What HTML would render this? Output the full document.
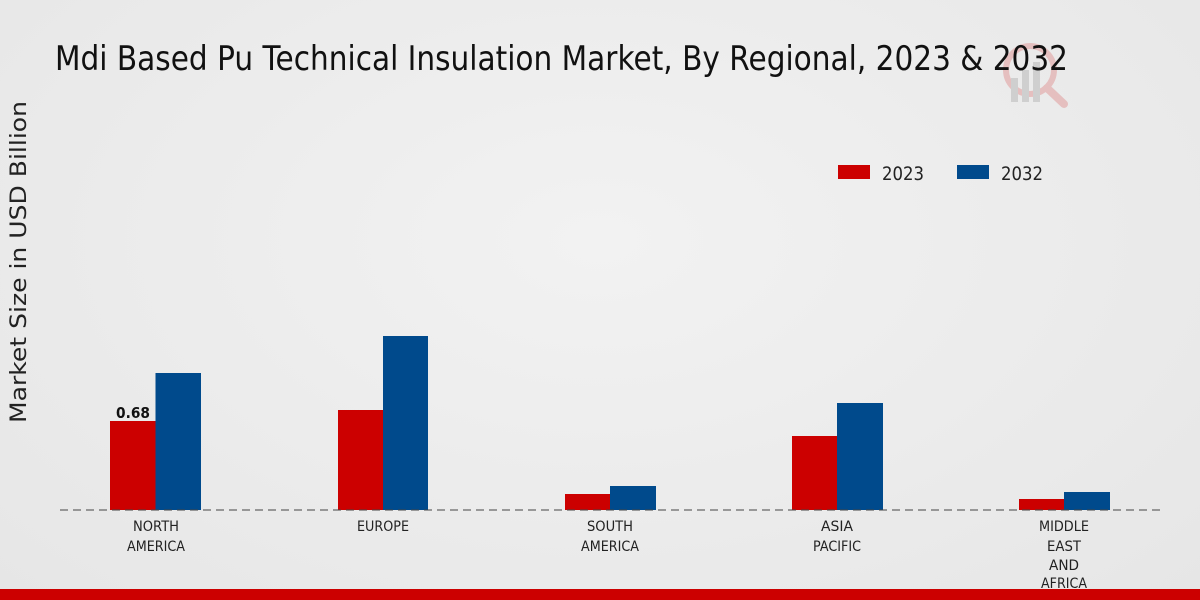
<!DOCTYPE html>
<html><head><meta charset="utf-8"><style>
html,body{margin:0;padding:0}
body{width:1200px;height:600px;overflow:hidden;background:radial-gradient(ellipse at 50% 40%,#f2f2f2 0%,#e6e6e6 100%);font-family:"Liberation Sans","DejaVu Sans",sans-serif}
</style></head><body>
<svg width="1200" height="600" viewBox="0 0 1200 600" xmlns="http://www.w3.org/2000/svg" style="position:absolute;left:0;top:0">
<g opacity="0.18">
<circle cx="1030" cy="70" r="24" fill="none" stroke="#c00" stroke-width="6"/>
<line x1="1047" y1="88" x2="1064" y2="104" stroke="#c00" stroke-width="8" stroke-linecap="round"/>
<rect x="1011" y="78" width="7" height="24" fill="#555"/><rect x="1022" y="70" width="7" height="32" fill="#555"/><rect x="1033" y="62" width="7" height="40" fill="#555"/>
</g>
<text x="55" y="70" font-size="34" fill="#111" textLength="1013" lengthAdjust="spacingAndGlyphs" font-family="DejaVu Sans, sans-serif">Mdi Based Pu Technical Insulation Market, By Regional, 2023 &amp; 2032</text>
<text transform="translate(26,262) rotate(-90)" text-anchor="middle" font-size="22" fill="#222" font-family="DejaVu Sans, sans-serif" textLength="322" lengthAdjust="spacingAndGlyphs">Market Size in USD Billion</text>
<rect x="838" y="165" width="32" height="14" fill="#cc0000"/>
<text x="882" y="180" font-size="19" fill="#222" font-family="DejaVu Sans, sans-serif" textLength="42" lengthAdjust="spacingAndGlyphs">2023</text>
<rect x="957" y="165" width="32" height="14" fill="#004a8c"/>
<text x="1001" y="180" font-size="19" fill="#222" font-family="DejaVu Sans, sans-serif" textLength="42" lengthAdjust="spacingAndGlyphs">2032</text>
<g>
<rect x="110" y="421" width="45.5" height="89" fill="#cc0000"/><rect x="155.5" y="373" width="45.5" height="137" fill="#004a8c"/>
<rect x="338" y="410" width="45" height="100" fill="#cc0000"/><rect x="383" y="336" width="45" height="174" fill="#004a8c"/>
<rect x="565" y="494" width="45" height="16" fill="#cc0000"/><rect x="610" y="486" width="46" height="24" fill="#004a8c"/>
<rect x="792" y="436" width="45" height="74" fill="#cc0000"/><rect x="837" y="403" width="46" height="107" fill="#004a8c"/>
<rect x="1019" y="499" width="45" height="11" fill="#cc0000"/><rect x="1064" y="492" width="46" height="18" fill="#004a8c"/>
</g>
<line x1="60" y1="510" x2="1160" y2="510" stroke="#444" stroke-dasharray="8,5" stroke-width="1"/>
<text x="133" y="418" text-anchor="middle" font-size="15" font-weight="bold" fill="#111" font-family="DejaVu Sans, sans-serif" textLength="34" lengthAdjust="spacingAndGlyphs">0.68</text>
<g font-size="14" fill="#222" text-anchor="middle" font-family="DejaVu Sans, sans-serif" transform="scale(1,1)">
<text x="156" y="531" textLength="46" lengthAdjust="spacingAndGlyphs">NORTH</text><text x="156" y="551" textLength="58" lengthAdjust="spacingAndGlyphs">AMERICA</text>
<text x="383" y="531" textLength="52" lengthAdjust="spacingAndGlyphs">EUROPE</text>
<text x="610" y="531" textLength="46" lengthAdjust="spacingAndGlyphs">SOUTH</text><text x="610" y="551" textLength="58" lengthAdjust="spacingAndGlyphs">AMERICA</text>
<text x="837" y="531" textLength="32" lengthAdjust="spacingAndGlyphs">ASIA</text><text x="837" y="551" textLength="48" lengthAdjust="spacingAndGlyphs">PACIFIC</text>
<text x="1064" y="531" textLength="50" lengthAdjust="spacingAndGlyphs">MIDDLE</text><text x="1064" y="551" textLength="34" lengthAdjust="spacingAndGlyphs">EAST</text><text x="1064" y="570" textLength="30" lengthAdjust="spacingAndGlyphs">AND</text><text x="1064" y="588" textLength="46" lengthAdjust="spacingAndGlyphs">AFRICA</text>
</g>
<rect x="0" y="589" width="1200" height="11" fill="#cc0000"/>
</svg>
</body></html>
